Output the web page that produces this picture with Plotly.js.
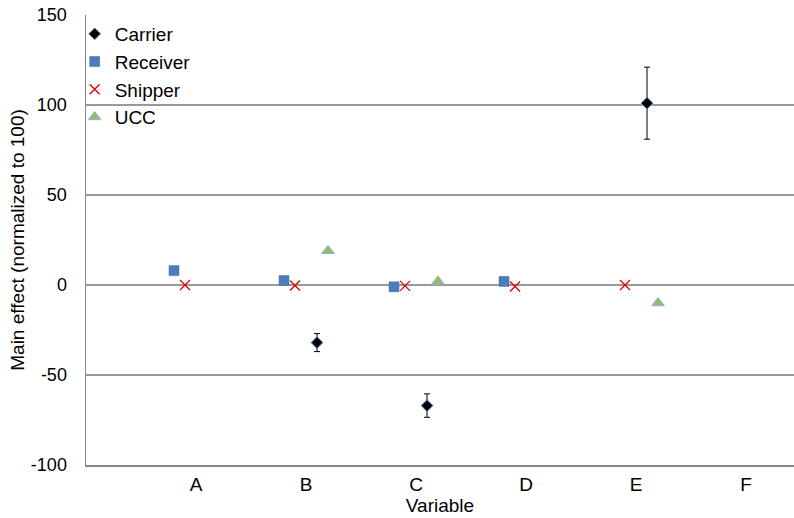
<!DOCTYPE html>
<html>
<head>
<meta charset="utf-8">
<script src="https://cdn.plot.ly/plotly-3.0.1.min.js"></script>
<style>html,body{margin:0;padding:0;background:#fff;}#chart{width:794px;height:518px;}</style>
</head>
<body>
<div id="chart"></div>
<script>
// Data
const categories = ['A', 'B', 'C', 'D', 'E', 'F'];
const catPos = [1, 2, 3, 4, 5, 6];

const carrierVals   = [null, -32, -67, null, 101, null];
const carrierErr    = [null, 5, 6.5, null, 20, null];
const receiverVals  = [8, 2.5, -1, 2, null, null];
const shipperVals   = [0, -0.3, -0.5, -0.8, 0, null];
const uccVals       = [null, 19, 2, null, -10, null];

const yTickVals  = [-100, -50, 0, 50, 100, 150];
const yTickText  = ['-100', '-50', '0', '50', '100', '150'];

// horizontal offsets of each series within a category (cluster layout)
const offsets = {Carrier: 0.1, Receiver: -0.2, Shipper: -0.1, UCC: 0.2};

function xs(name) { return catPos.map(p => p + offsets[name]); }

const font = 'Liberation Sans, Arial, sans-serif';

const traces = [
  {
    name: 'Carrier', type: 'scatter', mode: 'markers', x: xs('Carrier'), y: carrierVals,
    marker: {symbol: 'diamond', size: 9, color: '#000000', line: {color: '#4A7EBB', width: 1}},
    error_y: {type: 'data', array: carrierErr, visible: true, color: '#000000', thickness: 1, width: 3},
    legendgroup: 'g1'
  },
  {
    name: 'Receiver', type: 'scatter', mode: 'markers', x: xs('Receiver'), y: receiverVals,
    marker: {symbol: 'square', size: 10, color: '#4A7EBB', line: {color: '#3E6DA8', width: 0.5}},
    legendgroup: 'g2'
  },
  {
    name: 'Shipper', type: 'scatter', mode: 'markers', x: xs('Shipper'), y: shipperVals,
    marker: {symbol: 'x-thin', size: 10, color: '#E00000', line: {color: '#E00000', width: 1.3}},
    legendgroup: 'g3'
  },
  {
    name: 'UCC', type: 'scatter', mode: 'markers', x: xs('UCC'), y: uccVals,
    marker: {symbol: 'triangle-up', size: 11, color: '#9BBB59', line: {color: '#8EB4E3', width: 1}},
    legendgroup: 'g4'
  }
];

const layout = {
  width: 794, height: 518,
  margin: {l: 86, r: 0, t: 15, b: 53, pad: 0},
  paper_bgcolor: '#ffffff', plot_bgcolor: '#ffffff',
  font: {family: font, size: 19, color: '#000000'},
  showlegend: true,
  legend: {
    x: -0.016, y: 1.0, xanchor: 'left', yanchor: 'top',
    bgcolor: 'rgba(255,255,255,0)', borderwidth: 0,
    font: {family: font, size: 19, color: '#000000'},
    traceorder: 'grouped', tracegroupgap: 0, itemwidth: 30
  },
  xaxis: {
    range: [0, 6.436], tickvals: catPos, ticktext: categories,
    showgrid: false, zeroline: false, showline: true, linecolor: '#868686', linewidth: 1.5,
    ticks: '', ticklabelstandoff: 2,
    tickfont: {family: font, size: 19, color: '#000000'},
    title: {text: 'Variable', font: {family: font, size: 19, color: '#000000'}, standoff: 0}
  },
  yaxis: {
    range: [-100, 150], tickvals: yTickVals, ticktext: yTickText,
    showgrid: true, gridcolor: '#999999', gridwidth: 1.5,
    zeroline: false, showline: true, linecolor: '#868686', linewidth: 1.5,
    ticks: '', ticklabelstandoff: 14,
    tickfont: {family: font, size: 18, color: '#000000'},
    title: {text: 'Main effect (normalized to 100)', font: {family: font, size: 19, color: '#000000'}, standoff: 1}
  }
};

Plotly.newPlot('chart', traces, layout, {displayModeBar: false, staticPlot: true});
</script>
</body>
</html>
